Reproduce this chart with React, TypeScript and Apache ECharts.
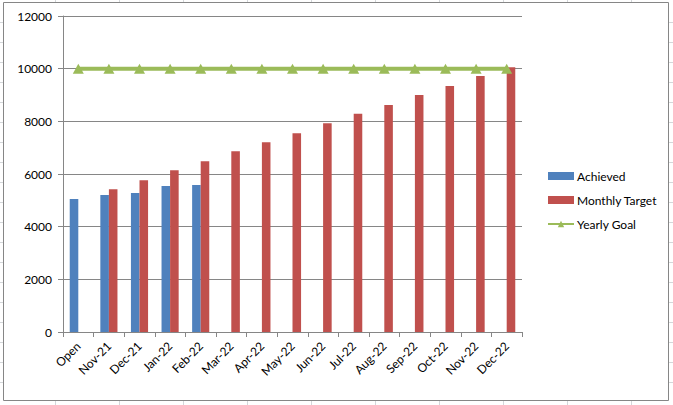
import React, { useEffect, useRef } from "react";
import * as echarts from "echarts";

const categories = ["Open", "Nov-21", "Dec-21", "Jan-22", "Feb-22", "Mar-22", "Apr-22", "May-22", "Jun-22", "Jul-22", "Aug-22", "Sep-22", "Oct-22", "Nov-22", "Dec-22"];
const achieved: (number | null)[] = [5050, 5200, 5280, 5545, 5585, null, null, null, null, null, null, null, null, null, null];
const monthlyTarget: (number | null)[] = [null, 5420, 5760, 6140, 6480, 6860, 7210, 7550, 7930, 8290, 8620, 9000, 9340, 9720, 10050];
const yearlyGoal = [10000, 10000, 10000, 10000, 10000, 10000, 10000, 10000, 10000, 10000, 10000, 10000, 10000, 10000, 10000];
const seriesNames = ["Achieved", "Monthly Target", "Yearly Goal"];

const W = 673;
const H = 405;

function sheetLines() {
  const els: any[] = [];
  const c = "#d4d7da";
  const add = (x1: number, y1: number, x2: number, y2: number) =>
    els.push({ type: "line", shape: { x1, y1, x2, y2 }, style: { stroke: c, lineWidth: 1 }, silent: true });
  for (let x = 55; x < W; x += 64) {
    add(x + 0.5, 0, x + 0.5, 2);
    add(x + 0.5, 401, x + 0.5, H);
  }
  for (let y = 22; y < 400; y += 20) {
    add(0, y + 0.5, 3, y + 0.5);
    add(669, y + 0.5, W, y + 0.5);
  }
  return els;
}

export default function App() {
  const ref = useRef<HTMLDivElement>(null);
  useEffect(() => {
    if (!ref.current) return;
    const chart = echarts.init(ref.current, null, { renderer: "svg" });
    const font = "Lato, 'Open Sans', sans-serif";
    chart.setOption({
      animation: false,
      backgroundColor: "#ffffff",
      textStyle: { fontFamily: font },
      graphic: [
        ...sheetLines(),
        {
          type: "rect",
          shape: { x: 3.5, y: 2.5, width: 665, height: 398 },
          style: { fill: "none", stroke: "#868686", lineWidth: 1 },
          silent: true,
        },
      ],
      grid: { left: 63, right: 151, top: 16, bottom: 73 },
      legend: {
        orient: "vertical",
        left: 542,
        top: 164,
        itemWidth: 26,
        itemHeight: 8,
        itemGap: 10,
        data: [
          { name: seriesNames[0], icon: "rect" },
          { name: seriesNames[1], icon: "rect" },
          { name: seriesNames[2] },
        ],
        textStyle: { fontFamily: font, fontSize: 12, color: "#000", lineHeight: 14, padding: [0, 0, 0, -2] },
      },
      xAxis: {
        type: "category",
        data: categories,
        boundaryGap: true,
        axisLine: { show: true, lineStyle: { color: "#868686", width: 1 } },
        axisTick: { show: true, length: 5, lineStyle: { color: "#868686" }, alignWithLabel: false },
        axisLabel: { rotate: 45, margin: 12, fontFamily: font, fontSize: 12, color: "#000", interval: 0 },
        splitLine: { show: false },
      },
      yAxis: {
        type: "value",
        min: 0,
        max: 12000,
        interval: 2000,
        axisLine: { show: true, lineStyle: { color: "#868686", width: 1 } },
        axisTick: { show: true, length: 5, lineStyle: { color: "#868686" } },
        axisLabel: { margin: 11, fontFamily: font, fontSize: 12, color: "#000", formatter: (v: number) => String(v) },
        splitLine: { show: true, lineStyle: { color: "#868686", width: 1 } },
      },
      series: [
        {
          name: seriesNames[0],
          type: "bar",
          data: achieved,
          itemStyle: { color: "#4F81BD" },
          barGap: "0%",
          barCategoryGap: "44%",
        },
        {
          name: seriesNames[1],
          type: "bar",
          data: monthlyTarget,
          itemStyle: { color: "#C0504D" },
          barGap: "0%",
          barCategoryGap: "44%",
        },
        {
          name: seriesNames[2],
          type: "line",
          data: yearlyGoal,
          symbol: "triangle",
          symbolSize: [11, 10],
          lineStyle: { color: "#9BBB59", width: 4 },
          itemStyle: { color: "#9BBB59" },
          z: 5,
        },
      ],
    });
    return () => chart.dispose();
  }, []);
  return <div ref={ref} style={{ position: "fixed", left: 0, top: 0, width: W, height: H }} />;
}
